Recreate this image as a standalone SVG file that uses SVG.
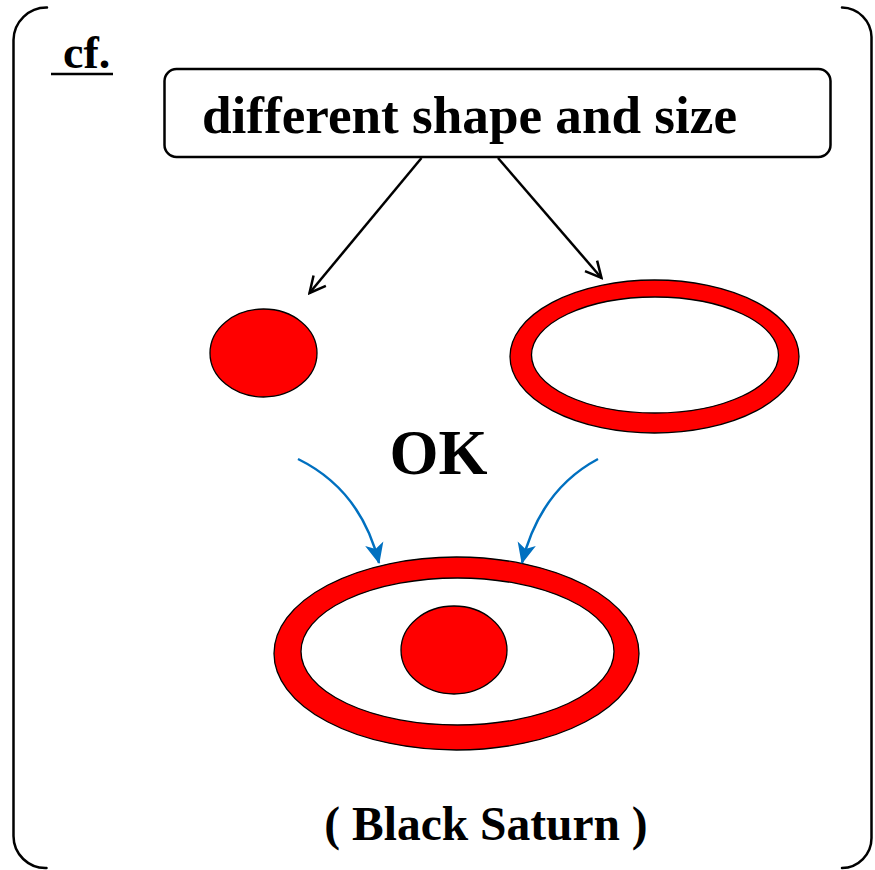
<svg xmlns="http://www.w3.org/2000/svg" width="875" height="870" viewBox="0 0 875 870">
  <defs>
    <style>
      .t { font-family: "Liberation Serif", "Times New Roman", serif; font-weight: bold; fill: #000; }
      .frame { fill: none; stroke: #000; stroke-width: 2.5; stroke-linecap: round; }
      .blk { fill: none; stroke: #000; stroke-width: 2.5; }
      .blue { fill: none; stroke: #0070C0; stroke-width: 2.5; }
      .ring { fill: #FF0000; fill-rule: evenodd; stroke: #000; stroke-width: 1.3; }
      .disc { fill: #FF0000; stroke: #000; stroke-width: 1.3; }
    </style>
    <marker id="openArrow" viewBox="0 0 20 20" refX="18" refY="10" markerWidth="20" markerHeight="20" markerUnits="userSpaceOnUse" orient="auto">
      <path d="M2,2 L18,10 L2,18" fill="none" stroke="#000" stroke-width="2.5"/>
    </marker>
    <marker id="blueArrow" viewBox="0 0 20 20" refX="18" refY="10" markerWidth="22" markerHeight="22" markerUnits="userSpaceOnUse" orient="auto">
      <path d="M0,1.5 L19,10 L0,18.5 L5,10 Z" fill="#0070C0"/>
    </marker>
  </defs>

  <g id="frame">
    <path class="frame" d="M47,7.5 A33,33 0 0 0 13.5,40 L13.5,836 A32,32 0 0 0 46.5,868"/>
    <path class="frame" d="M842,7.5 A30,30 0 0 1 871.5,37 L871.5,838 A30,30 0 0 1 842,868"/>
  </g>

  <g id="cf">
    <text class="t" x="63" y="68" font-size="46">cf.</text>
    <line x1="51" y1="74" x2="113" y2="74" stroke="#000" stroke-width="2.5"/>
  </g>

  <g id="box">
    <rect x="164.5" y="69" width="666" height="88" rx="12" ry="12" fill="#fff" stroke="#000" stroke-width="2.5"/>
    <text class="t" x="202" y="133" font-size="52" textLength="535" lengthAdjust="spacingAndGlyphs">different shape and size</text>
  </g>

  <g id="small-disc">
    <ellipse class="disc" cx="263.5" cy="353" rx="53.5" ry="44"/>
  </g>

  <g id="ring">
    <path class="ring" d="M510,356.5 A144.5,76.5 0 1 0 799,356.5 A144.5,76.5 0 1 0 510,356.5 Z M531.5,355 A123.5,58 0 1 0 778.5,355 A123.5,58 0 1 0 531.5,355 Z"/>
  </g>

  <g id="ok">
    <text class="t" x="438.5" y="474" font-size="63" text-anchor="middle">OK</text>
  </g>

  <g id="saturn">
    <path class="ring" d="M274,653.5 A182.5,96.5 0 1 0 639,653.5 A182.5,96.5 0 1 0 274,653.5 Z M301,651.5 A156.5,73.5 0 1 0 614,651.5 A156.5,73.5 0 1 0 301,651.5 Z"/>
    <ellipse class="disc" cx="454" cy="650" rx="53" ry="44"/>
  </g>

  <g id="label">
    <text class="t" x="486" y="840" font-size="47.5" text-anchor="middle">( Black Saturn )</text>
  </g>

  <g id="connectors">
    <line class="blk" x1="421.5" y1="158" x2="309.5" y2="293" marker-end="url(#openArrow)"/>
    <line class="blk" x1="498" y1="158" x2="601.5" y2="278" marker-end="url(#openArrow)"/>
    <path class="blue" d="M298,459 Q361,490 379,563" marker-end="url(#blueArrow)"/>
    <path class="blue" d="M598,459 Q540,490 522,563" marker-end="url(#blueArrow)"/>
  </g>
</svg>
